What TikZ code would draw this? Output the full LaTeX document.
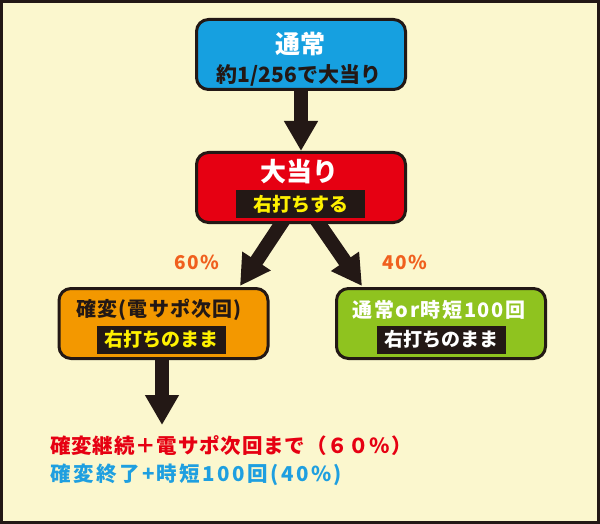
\documentclass[tikz,border=0pt]{standalone}
\usepackage{fontspec}
\setmainfont{Noto Sans CJK JP}[BoldFont={Noto Sans CJK JP Black}]
\usetikzlibrary{arrows.meta}
\definecolor{bg}{HTML}{FBF7CE}
\definecolor{ink}{HTML}{231815}
\definecolor{skyfill}{HTML}{16A0E0}
\definecolor{redfill}{HTML}{E60012}
\definecolor{orangefill}{HTML}{F39800}
\definecolor{greenfill}{HTML}{8FC31F}
\definecolor{yel}{HTML}{FFF100}
\definecolor{pct}{HTML}{F0601E}
\definecolor{bluetxt}{HTML}{1E9FE0}
\newcommand{\spaced}[1]{\addfontfeature{LetterSpace=#1}}

\begin{document}
\begin{tikzpicture}[x=1pt,y=-1pt,
	box/.style={draw=ink,line width=3pt,rounded corners=12pt,minimum width=209pt,minimum height=70pt,inner sep=0pt},
	strip/.style={fill=ink,minimum width=129pt,minimum height=28pt,inner sep=0pt},
	big/.style={ink,line width=14pt,-{Triangle[width=32pt,length=30pt]}},
	txt/.style={font=\bfseries\fontsize{#1}{#1}\selectfont,inner sep=0pt}]
	\useasboundingbox (0,0) rectangle (600,524);
	\fill[bg] (0,0) rectangle (600,524);
	\draw[ink,line width=3pt] (1.5,1.5) rectangle (598.5,522.5);

	% arrows first, boxes cover the tails
	\coordinate (l0) at (287,215);
	\coordinate (l1) at (240,286);
	\coordinate (r0) at (313,215);
	\coordinate (r1) at (362,286);
	\coordinate (down) at (162,425);
	\draw[big] (l0)--(l1);
	\draw[big] (r0)--(r1);

	\node[box,fill=skyfill] (normal) at (301,54.5) {};
	\node[txt=25,white] (normalT) at (300,44) {通常};
	\node[txt=21,ink] (normalP) at (299,75) {約1/256で大当り};

	\node[box,fill=redfill] (hit) at (301,187.5) {};
	\node[txt=26,white] (hitT) at (299,172) {大当り};
	\node[strip,txt=19,text=yel] (hitS) at (300.5,204) {右打ちする};
	\draw[big] (normal)--(hit);

	\node[box,fill=orangefill] (kakuhen) at (163.5,323.5) {};
	\node[txt=20,ink] (kakuhenT) at (159,310) {\spaced{6}確変(電サポ次回)};
	\node[strip,txt=19,text=yel] (kakuhenS) at (161.5,339.5) {右打ちのまま};
	\draw[big] (kakuhen.south -| down)--(down);

	\node[box,fill=greenfill] (jitan) at (441,323.5) {};
	\node[txt=20,white] (jitanT) at (439,310) {\spaced{8}通常or時短100回};
	\node[strip,txt=19,text=white] (jitanS) at (441,339.5) {右打ちのまま};

	\node[txt=19,pct] (p60) at (196.5,262) {\spaced{8}60\%};
	\node[txt=19,pct] (p40) at (404.5,262) {\spaced{8}40\%};

	\node[txt=20.5,redfill,anchor=west] (res1) at (50,446) {\spaced{4}確変継続＋電サポ次回まで（６０％）};
	\node[txt=20.5,bluetxt,anchor=west] (res2) at (50,475) {\spaced{12}確変終了+時短100回(40\%)};
\end{tikzpicture}
\end{document}
